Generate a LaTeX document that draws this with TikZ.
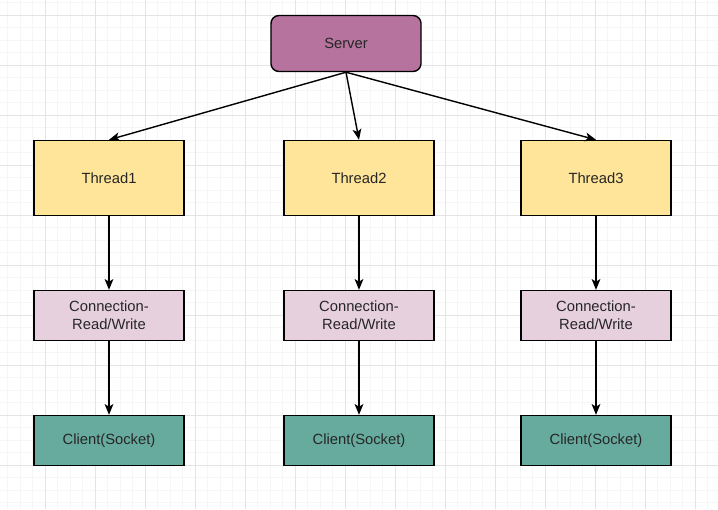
\documentclass[tikz,border=0pt]{standalone}
\usepackage{fontspec}
\setmainfont{Liberation Sans}
\usetikzlibrary{arrows.meta}
\definecolor{serverfill}{HTML}{B5739D}
\definecolor{threadfill}{HTML}{FFE599}
\definecolor{connfill}{HTML}{E6D0DE}
\definecolor{clientfill}{HTML}{67AB9F}
\definecolor{gridminor}{HTML}{F6F6F6}
\definecolor{gridmajor}{HTML}{E4E4E4}
\tikzset{
  box/.style={draw=black, line width=1pt, minimum width=3.75cm, inner sep=0pt,
    font=\fontsize{10.5}{12.5}\selectfont, text=black!85, align=center},
  serverbox/.style={box, fill=serverfill, rounded corners=0.2cm, minimum height=1.4cm},
  threadbox/.style={box, fill=threadfill, minimum height=1.875cm},
  connbox/.style={box, fill=connfill, minimum height=1.25cm},
  clientbox/.style={box, fill=clientfill, minimum height=1.25cm},
  link/.style={draw=black, line width=1pt, -{Stealth[length=0.27cm, width=0.22cm, inset=0.07cm]}}
}

\begin{document}
\begin{tikzpicture}[x=0.025cm, y=-0.025cm]
  %%%%% BACKGROUND %%%%%
  \fill[white] (0, 0) rectangle (718, 509);
  \useasboundingbox (0, 0) rectangle (718, 509);
  \foreach \i in {0,...,57}
    \draw[gridminor, line width=0.6pt] (7.5+\i*12.5, 0) -- (7.5+\i*12.5, 509);
  \foreach \i in {0,...,40}
    \draw[gridminor, line width=0.6pt] (0, 2.5+\i*12.5) -- (718, 2.5+\i*12.5);
  \foreach \i in {0,...,13}
    \draw[gridmajor, line width=0.6pt] (45+\i*50, 0) -- (45+\i*50, 509);
  \foreach \i in {0,...,9}
    \draw[gridmajor, line width=0.6pt] (0, 15+\i*50) -- (718, 15+\i*50);

  %%%%% NODES %%%%%
  \node[serverbox] (server) at (346, 43.5) {Server};

  \node[threadbox] (thread1) at (109, 178) {Thread1};
  \node[threadbox] (thread2) at (359, 178) {Thread2};
  \node[threadbox] (thread3) at (596, 178) {Thread3};

  \node[connbox] (conn1) at (109, 315.5) {Connection-\\Read/Write};
  \node[connbox] (conn2) at (359, 315.5) {Connection-\\Read/Write};
  \node[connbox] (conn3) at (596, 315.5) {Connection-\\Read/Write};

  \node[clientbox] (client1) at (109, 440.5) {Client(Socket)};
  \node[clientbox] (client2) at (359, 440.5) {Client(Socket)};
  \node[clientbox] (client3) at (596, 440.5) {Client(Socket)};

  %%%%% LINKS %%%%%
  \foreach \n in {1,2,3} {
    \draw[link] (server.south) -- (thread\n.north);
    \draw[link] (thread\n.south) -- (conn\n.north);
    \draw[link] (conn\n.south) -- (client\n.north);
  }
\end{tikzpicture}
\end{document}
